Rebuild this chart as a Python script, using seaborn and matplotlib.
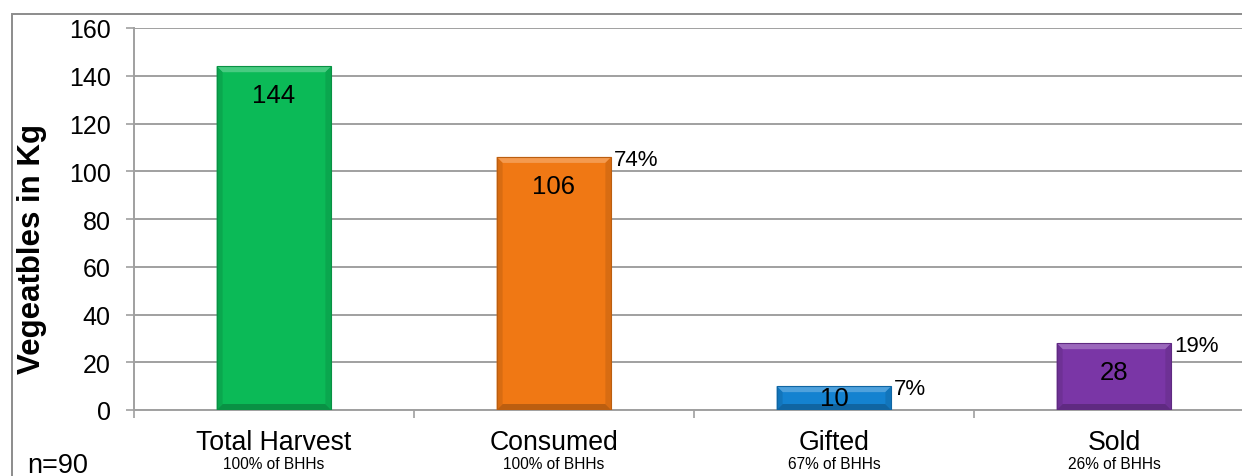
import matplotlib
matplotlib.use("Agg")
import matplotlib.pyplot as plt
import matplotlib.colors as mcolors
from matplotlib.patches import Polygon, Rectangle
from matplotlib.transforms import IdentityTransform, blended_transform_factory
import seaborn as sns

# Vegetable harvest usage (kg), n = 90 households
categories = ["Total Harvest", "Consumed", "Gifted", "Sold"]
kilograms = [144, 106, 10, 28]
share_of_harvest = ["", "74%", "7%", "19%"]
share_of_households = ["100% of BHHs", "100% of BHHs", "67% of BHHs", "26% of BHHs"]
bar_colors = ["#0BBA57", "#F07814", "#1482D0", "#7A36A6"]
y_ticks = [0, 20, 40, 60, 80, 100, 120, 140, 160]

sns.set_theme(style="white")
plt.rcParams["font.family"] = ["Liberation Sans", "DejaVu Sans"]

DPI = 100
W, H = 1242, 477
fig = plt.figure(figsize=(W / DPI, H / DPI), dpi=DPI)
fig.patch.set_facecolor("white")

# plot area in pixels: x 134..1254, y 29..411 (from top)
ax = fig.add_axes([134 / W, (H - 411) / H, 1120 / W, (411 - 29) / H])
ax.set_facecolor("white")

sns.barplot(x=categories, y=kilograms, hue=categories, palette=bar_colors,
            width=0.41, saturation=1, legend=False, ax=ax, zorder=3,
            edgecolor="none", linewidth=0)

grid_gray = "#A0A0A0"
ax.set_ylim(0, 160)
ax.set_xlim(-0.5, 3.5)
ax.set_yticks(y_ticks)
ax.set_yticklabels([str(t) for t in y_ticks], fontsize=18, color="black")
ax.yaxis.grid(True, color=grid_gray, linewidth=1.4, zorder=0)
ax.set_axisbelow(True)
ax.set_xticks([-0.5, 0.5, 1.5, 2.5, 3.5])
ax.set_xticklabels([])
ax.tick_params(axis="y", which="major", left=True, length=5.8, width=1.2,
               color=grid_gray, pad=11)
ax.tick_params(axis="x", which="major", bottom=True, length=5.8, width=1.2,
               color=grid_gray)
for side in ("top", "right"):
    ax.spines[side].set_visible(False)
for side in ("left", "bottom"):
    ax.spines[side].set_color(grid_gray)
    ax.spines[side].set_linewidth(1.4)
ax.set_xlabel("")
ax.set_ylabel("")

# bevelled look on each bar, built from the bar patches themselves
fig.canvas.draw()
bevel = 6
for patch, color in zip(ax.patches, bar_colors):
    bb = patch.get_window_extent()
    x0, y0, x1, y1 = bb.x0, bb.y0, bb.x1, bb.y1
    b = min(bevel, (y1 - y0) / 2.5)
    base = mcolors.to_rgb(color)
    light = tuple(min(1, c + (1 - c) * 0.25) for c in base)
    dark = tuple(c * 0.78 for c in base)
    mid = tuple(c * 0.9 for c in base)
    shapes = [
        ([(x0, y1), (x1, y1), (x1 - b, y1 - b), (x0 + b, y1 - b)], light),
        ([(x0, y0), (x1, y0), (x1 - b, y0 + b), (x0 + b, y0 + b)], dark),
        ([(x0, y0), (x0 + b, y0 + b), (x0 + b, y1 - b), (x0, y1)], mid),
        ([(x1, y0), (x1 - b, y0 + b), (x1 - b, y1 - b), (x1, y1)], mid),
    ]
    for pts, c in shapes:
        ax.add_artist(Polygon(pts, closed=True, facecolor=c, edgecolor="none",
                              transform=IdentityTransform(), zorder=4))
    ax.add_artist(Rectangle((x0, y0), x1 - x0, y1 - y0, fill=False,
                            edgecolor=dark, linewidth=0.8,
                            transform=IdentityTransform(), zorder=4))

# value labels inside the bar tops, share labels beside them
px_per_unit = (411 - 29) / 160.0
for patch, val, share in zip(ax.patches, kilograms, share_of_harvest):
    cx = patch.get_x() + patch.get_width() / 2
    y_center = max(val - 29 / px_per_unit, val / 2)
    ax.text(cx, y_center, f"{val}", ha="center", va="center", fontsize=18.5,
            color="black", zorder=5)
    if share:
        ax.annotate(share, xy=(patch.get_x() + patch.get_width(), val),
                    xytext=(2, -2), textcoords="offset points",
                    ha="left", va="center", fontsize=16, color="black", zorder=5)

# two-line category labels
trans = blended_transform_factory(ax.transData, fig.transFigure)
for i, (name, sub) in enumerate(zip(categories, share_of_households)):
    fig.text(i, 1 - 443 / H, name, transform=trans, ha="center", va="center",
             fontsize=19.2, color="black")
    fig.text(i, 1 - 465 / H, sub, transform=trans, ha="center", va="center",
             fontsize=11.2, color="black")

fig.text(32 / W, 1 - 249 / H, "Vegeatbles in Kg", rotation=90, ha="center",
         va="center", fontsize=22.5, fontweight="bold", color="black")
fig.text(27 / W, 1 - 466 / H, "n=90", ha="left", va="center", fontsize=19.5,
         color="black")

# chart frame
fig.add_artist(Rectangle((12 / W, -0.1), 1.2, 1 - 15 / H + 0.1, fill=False,
                         edgecolor="#8C8C8C", linewidth=1.4,
                         transform=fig.transFigure, zorder=0))

fig.savefig("out.png", dpi=DPI, facecolor="white")
